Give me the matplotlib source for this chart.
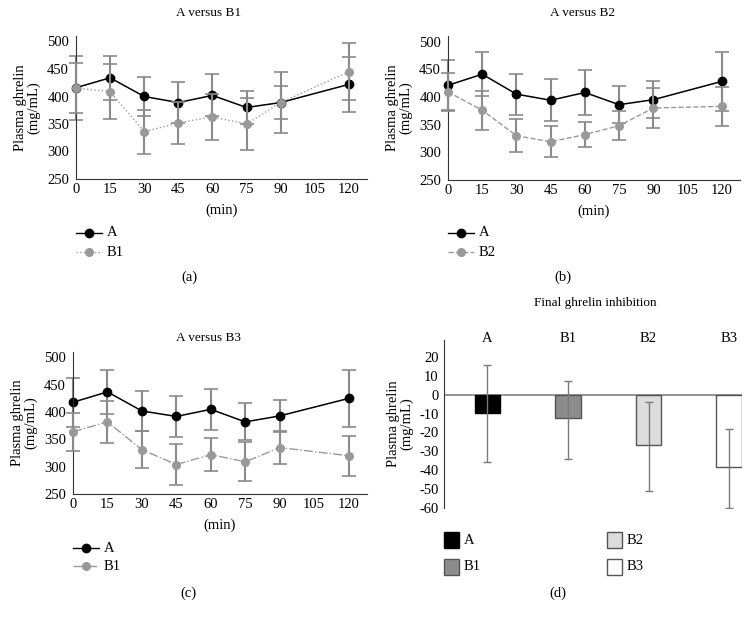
import numpy as np
import matplotlib
matplotlib.use("Agg")
import matplotlib.pyplot as plt
from matplotlib.transforms import blended_transform_factory

plt.rcParams['font.family'] = ['Liberation Serif', 'DejaVu Serif']
plt.rcParams['font.size'] = 9
plt.rcParams['axes.unicode_minus'] = False

'''Data'''
'''===='''
minutes = [0, 15, 30, 45, 60, 75, 90, 120]
xticks = [0, 15, 30, 45, 60, 75, 90, 105, 120]

# panel (a)
a_A = [416, 434, 400, 389, 402, 380, 389, 422]
a_A_err = [58, 40, 36, 38, 38, 30, 30, 50]
a_B1 = [415, 409, 336, 352, 363, 350, 389, 445]
a_B1_err = [45, 50, 40, 38, 42, 48, 55, 52]

# panel (b)
b_A = [421, 441, 405, 394, 408, 386, 395, 428]
b_A_err = [45, 40, 37, 38, 40, 33, 33, 53]
b_B2 = [409, 376, 330, 319, 332, 348, 380, 383]
b_B2_err = [35, 35, 30, 28, 23, 26, 37, 35]

# panel (c)
c_A = [418, 437, 402, 392, 405, 382, 393, 425]
c_A_err = [45, 40, 36, 38, 38, 34, 30, 52]
c_B3 = [364, 382, 331, 304, 322, 309, 335, 320]
c_B3_err = [35, 38, 34, 37, 30, 36, 30, 37]

# panel (d)
groups = ['A', 'B1', 'B2', 'B3']
final_inh = [-9.6, -12.3, -26.5, -38.2]
final_err = [25.6, 20.8, 23.5, 20.8]
final_err_center = [-10.1, -13.5, -27.5, -39.2]

W, H = 751, 618
fig = plt.figure(figsize=(W / 100, H / 100), dpi=100)

def rect(l, t, r, b):
    return [l / W, 1 - b / H, (r - l) / W, (b - t) / H]

grey = '#999999'
ecol = '#8a8a8a'
axcol = '#333333'
FS = 10.5

def legend_line(x0, y, color, ls, ms):
    xs = np.array([x0, x0 + 13, x0 + 26]) / W
    fig.add_artist(plt.Line2D(xs[[0, 2]], [1 - y / H] * 2, color=color, lw=1, ls=ls,
                              transform=fig.transFigure))
    fig.add_artist(plt.Line2D([xs[1]], [1 - y / H], color=color, marker='o', ms=ms, ls='none',
                              transform=fig.transFigure))

def line_panel(box, A, Aerr, B, Berr, ls, title, bname, llab, tpos, lpos, legy):
    ax = fig.add_axes(rect(*box))
    ax.errorbar(minutes, A, yerr=Aerr, color='black', ls='-', lw=1.1, marker='o', ms=6,
                ecolor=ecol, elinewidth=1.5, capsize=5, capthick=1.2, clip_on=False, zorder=2)
    ax.errorbar(minutes, B, yerr=Berr, color=grey, ls=ls, lw=1, marker='o', ms=5.5,
                ecolor=ecol, elinewidth=1.5, capsize=5, capthick=1.2, clip_on=False, zorder=3)
    ax.set_xlim(0, 128)
    ax.set_ylim(250, 510)
    ax.set_xticks(xticks)
    ax.set_yticks([250, 300, 350, 400, 450, 500])
    ax.tick_params(length=0, labelsize=FS)
    ax.tick_params(axis='y', pad=5)
    ax.tick_params(axis='x', pad=3)
    for s in ['top', 'right']:
        ax.spines[s].set_visible(False)
    for s in ['left', 'bottom']:
        ax.spines[s].set_color(axcol)
    ax.set_ylabel('Plasma ghrelin\n(mg/mL)', fontsize=FS, labelpad=5, linespacing=1.0)
    ax.set_xlabel('(min)', fontsize=FS, labelpad=5)
    fig.text(tpos[0] / W, 1 - tpos[1] / H, title, ha='center', va='center', fontsize=9.5)
    fig.text(lpos[0] / W, 1 - lpos[1] / H, llab, ha='center', va='center', fontsize=FS)
    x0 = box[0]
    legend_line(x0, legy[0], 'black', '-', 6)
    legend_line(x0, legy[1], grey, ls, 5.5)
    fig.text((x0 + 31) / W, 1 - legy[0] / H, 'A', va='center', fontsize=FS)
    fig.text((x0 + 31) / W, 1 - legy[1] / H, bname, va='center', fontsize=FS)
    return ax

line_panel((76, 36, 367, 179), a_A, a_A_err, a_B1, a_B1_err, ':', 'A versus B1', 'B1', '(a)',
           (209, 13), (189, 277), (233, 252))
line_panel((448, 36, 740, 180), b_A, b_A_err, b_B2, b_B2_err, '--', 'A versus B2', 'B2', '(b)',
           (583, 13), (563, 277), (233, 252))
line_panel((73, 352, 367, 494), c_A, c_A_err, c_B3, c_B3_err, '-.', 'A versus B3', 'B1', '(c)',
           (208, 338), (188, 593), (548, 566))

# panel (d)
ax = fig.add_axes(rect(444, 340, 742, 508))
pos = np.arange(len(groups))
faces = ['black', '#8c8c8c', '#dcdcdc', 'white']
edges = ['black', '#555555', '#555555', '#555555']
ax.bar(pos, final_inh, width=0.32, color=faces, edgecolor=edges, linewidth=1, zorder=2)
ax.errorbar(pos, final_err_center, yerr=final_err, fmt='none', ecolor='#7a7a7a',
            elinewidth=1, capsize=3, capthick=1, zorder=3)
ax.axhline(0, color='#808080', lw=1.2, zorder=1)
ax.set_xlim(-0.54, 3.16)
ax.set_ylim(-60, 29)
ax.set_yticks(np.arange(-60, 21, 10))
ax.set_xticks([])
ax.tick_params(length=0, labelsize=FS, pad=4)
for s in ['top', 'right', 'bottom']:
    ax.spines[s].set_visible(False)
ax.spines['left'].set_color(axcol)
ax.set_ylabel('Plasma ghrelin\n(mg/mL)', fontsize=FS, labelpad=4, linespacing=1.0)
tr = blended_transform_factory(ax.transData, ax.transAxes)
for p, g in zip(pos, groups):
    ax.text(p, 1.01, g, transform=tr, ha='center', va='center', fontsize=FS)
fig.text(595 / W, 1 - 303 / H, 'Final ghrelin inhibition', ha='center', va='center', fontsize=9.5)
fig.text(558 / W, 1 - 593 / H, '(d)', ha='center', va='center', fontsize=FS)

# legend for (d)
leg_pos = [(444, 540), (444, 567), (607, 540), (607, 567)]
for (lx, ly), g, fc, ec in zip(leg_pos, groups, faces, edges):
    fig.add_artist(plt.Rectangle((lx / W, 1 - (ly + 8) / H), 15 / W, 16 / H, facecolor=fc,
                                 edgecolor=ec, lw=1, transform=fig.transFigure))
    fig.text((lx + 20) / W, 1 - ly / H, g, va='center', fontsize=FS)

fig.savefig('out.png', dpi=100)
